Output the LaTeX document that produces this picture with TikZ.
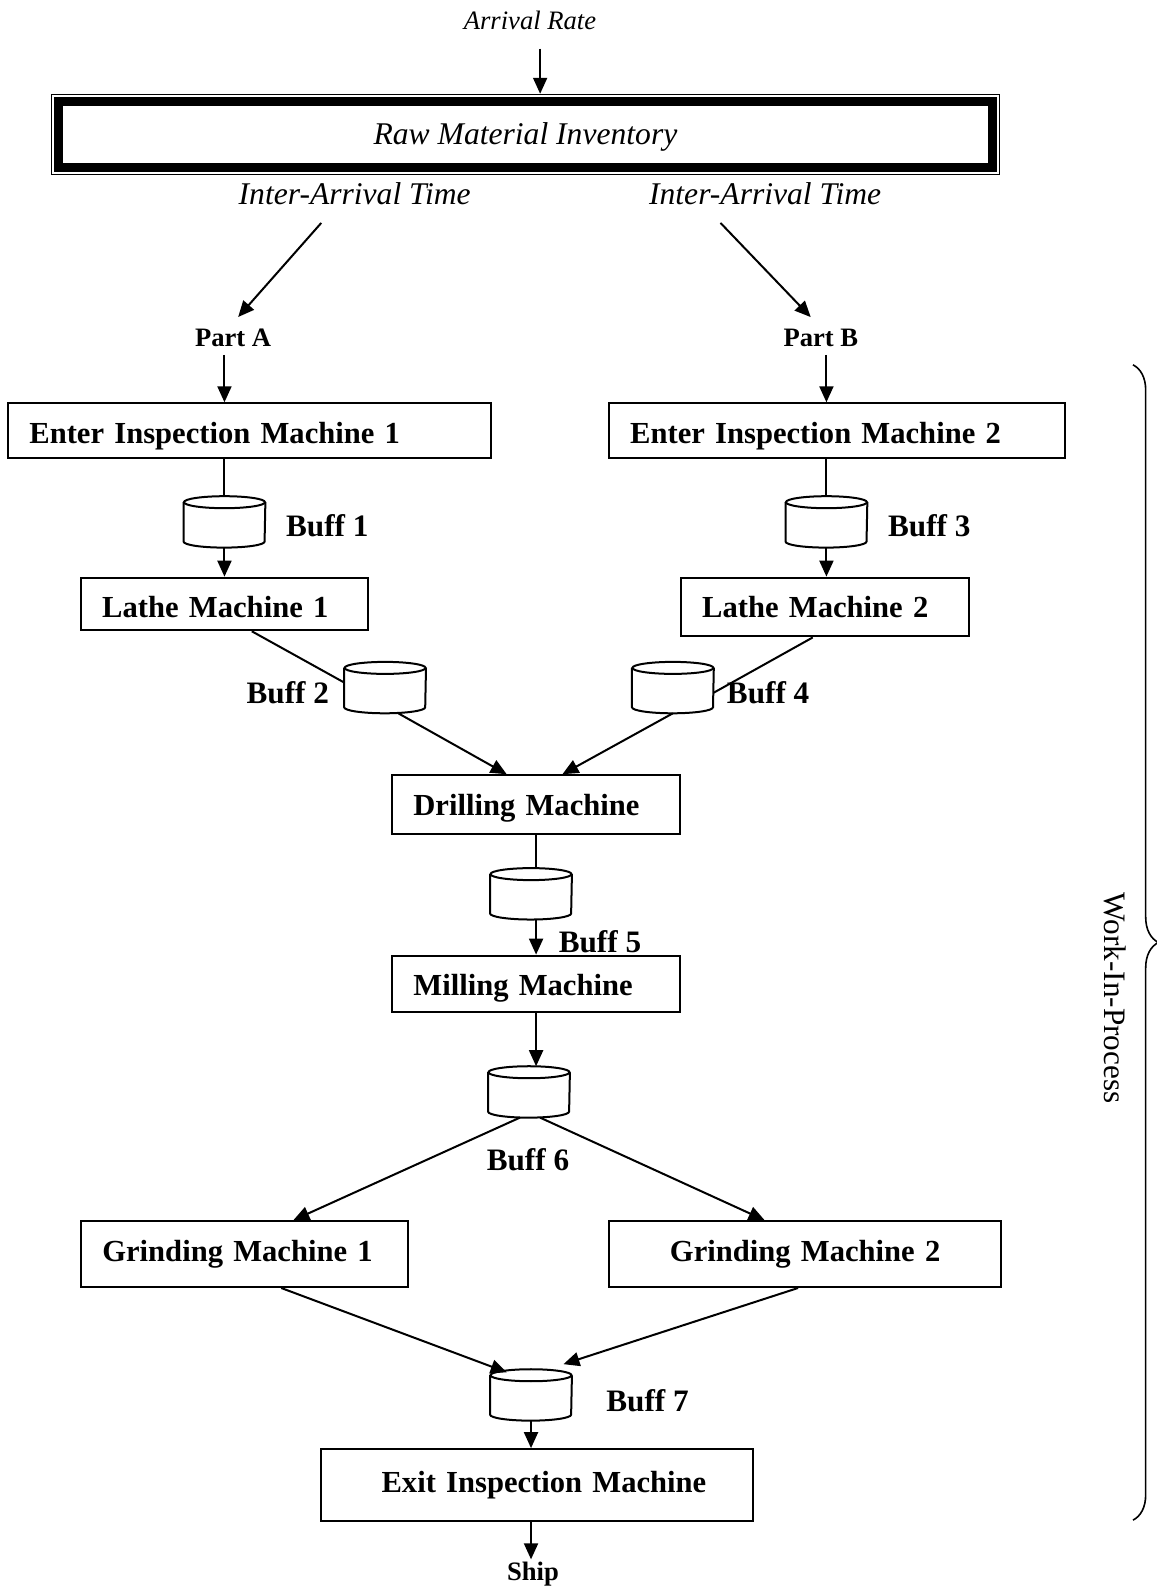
\documentclass[tikz,border=0pt]{standalone}
\usepackage{fontspec}
\setmainfont{Liberation Serif}
\usepackage{tikz}
\usetikzlibrary{arrows.meta, calc, decorations.pathreplacing}

\tikzset{
  flow/.style={line width=1pt, -{Triangle[length=8pt,width=7pt]}},
  link/.style={line width=1pt},
  machine/.style={draw, line width=1pt, font=\fontsize{15.3}{18}\selectfont\bfseries, align=left, inner xsep=10.6pt, inner ysep=0pt, text height=20pt},
  buffer/.style={minimum width=40.5pt, minimum height=25.3pt, inner sep=0pt},
  lbl/.style={font=\fontsize{15.6}{18}\selectfont\bfseries, inner sep=1pt},
  part/.style={font=\fontsize{13.3}{16}\selectfont\bfseries, inner sep=1pt},
  note/.style={font=\fontsize{15.8}{18}\selectfont\itshape, inner sep=1pt}
}

\begin{document}
\begin{tikzpicture}[x=0.5066pt, y=-0.5066pt]
\useasboundingbox (0,0) rectangle (1141,1568);

\node[note, font=\fontsize{13.3}{16}\selectfont\itshape] (ar) at (523,20) {Arrival Rate};
\node[draw, line width=0.5pt, minimum width=473.7pt, minimum height=40pt, text height=10.2pt, text depth=0pt, font=\fontsize{15.8}{18}\selectfont\itshape] (raw) at (518.5,132.5) {Raw Material Inventory};
\draw[line width=4.5pt] ($(raw.north west)+(7.5,7.5)$) rectangle ($(raw.south east)+(-7.5,-7.5)$);
\coordinate (arin) at (533,48);
\draw[flow] (arin) -- (arin |- raw.north);

\node[note] (ia1) at (350,191) {Inter-Arrival Time};
\node[note] (ia2) at (755,191) {Inter-Arrival Time};
\node[part] (pA) at (230,333) {Part A};
\node[part] (pB) at (810,333) {Part B};
\coordinate (s1) at (317,220);
\coordinate (s2) at (711,220);
\draw[flow] (s1) -- ($(pA.north)+(5,-9)$);
\draw[flow] (s2) -- ($(pB.north)+(-10,-9)$);

\node[machine, text width=220.4pt, text depth=7.4pt] (ei1) at (246.5,425) {Enter Inspection Machine 1};
\node[machine, text width=206.8pt, text depth=7.4pt] (ei2) at (826,425) {Enter Inspection Machine 2};
\node[buffer] (b1) at (221.5,515) {};
\node[buffer] (b3) at (815.5,515) {};
\node[lbl] (l1) at (323,519) {Buff 1};
\node[lbl] (l3) at (917,519) {Buff 3};
\node[machine, text width=122.2pt, text depth=6.3pt] (la1) at (221.5,596) {Lathe Machine 1};
\node[machine, text width=122.7pt, text depth=9.4pt] (la2) at (814,599) {Lathe Machine 2};

\draw[flow] ($(pA.south -| b1)+(0,6)$) -- (ei1.north -| b1);
\draw[flow] ($(pB.south -| b3)+(0,6)$) -- (ei2.north -| b3);
\draw[link] (ei1.south -| b1) -- (b1.north);
\draw[link] (ei2.south -| b3) -- (b3.north);
\draw[flow] (b1.south) -- (la1.north -| b1);
\draw[flow] (b3.south) -- (la2.north -| b3);

\node[buffer] (b2) at (380,678.5) {};
\node[buffer] (b4) at (664,678.5) {};
\node[lbl] (l2) at (284,684) {Buff 2};
\node[lbl] (l4) at (758,684) {Buff 4};
\node[machine, text width=122.7pt, text depth=9.4pt] (dr) at (529,794) {Drilling Machine};

\draw[link] ($(la1.south)+(27,0)$) -- ($(b2.west)+(0,-5)$);
\draw[link] ($(la2.south)+(-12,0)$) -- ($(b4.east)+(0,5)$);
\draw[flow] ($(b2.south)+(13,0)$) -- ($(dr.north)+(-29,0)$);
\draw[flow] (b4.south) -- ($(dr.north)+(26,0)$);

\node[buffer] (b5) at (524,882) {};
\node[lbl] (l5) at (592,929) {Buff 5};
\node[machine, text width=122.7pt, text depth=8.4pt] (mi) at (529,971) {Milling Machine};
\node[buffer] (b6) at (522,1077.5) {};
\node[lbl] (l6) at (521,1144) {Buff 6};

\draw[link] (dr.south) -- (dr.south |- b5.north);
\draw[flow] (dr.south |- b5.south) -- (mi.north);
\draw[flow] (mi.south) -- (mi.south |- b6.north);

\node[machine, text width=142.4pt, text depth=12.9pt] (gr1) at (241.5,1237.5) {Grinding Machine 1};
\node[machine, text width=174.8pt, text depth=12.9pt, align=center] (gr2) at (794.5,1237.5) {Grinding Machine 2};
\draw[flow] ($(b6.south)+(-9,0)$) -- ($(gr1.north)+(48,0)$);
\draw[flow] ($(b6.south)+(11,0)$) -- ($(gr2.north)+(-40,0)$);

\node[buffer] (b7) at (524,1376.5) {};
\node[lbl] (l7) at (639,1382) {Buff 7};
\node[machine, text width=169.2pt, inner xsep=23.3pt, text height=21.6pt, text depth=14.4pt, align=right] (ex) at (530,1465.5) {Exit Inspection Machine};
\node[part] (sh) at (526,1553) {Ship};

\draw[flow] ($(gr1.south)+(36,0)$) -- ($(b7.north)+(-24,3)$);
\draw[flow] ($(gr2.south)+(-7,0)$) -- ($(b7.north)+(32,-5)$);
\draw[flow] (b7.south) -- (b7.south |- ex.north);
\draw[flow] (ex.south -| b7) -- (sh.north -| b7);

\foreach \b in {b1,b2,b3,b4,b5,b6,b7}{
  \draw[link] ([yshift=-3pt]\b.north) ellipse [x radius=20.25pt, y radius=3pt];
  \draw[link] ([yshift=-3pt]\b.north west) -- ([yshift=3pt]\b.south west) arc[start angle=180, end angle=360, x radius=20.25pt, y radius=3pt] -- ([yshift=-3pt]\b.north east);
}

\draw[line width=0.8pt, decorate, decoration={brace, amplitude=12.7pt}] (1118,360) -- (1118,1500);
\node[rotate=-90, font=\fontsize{15.6}{18}\selectfont] (wip) at (1100,985) {Work-In-Process};
\end{tikzpicture}
\end{document}
